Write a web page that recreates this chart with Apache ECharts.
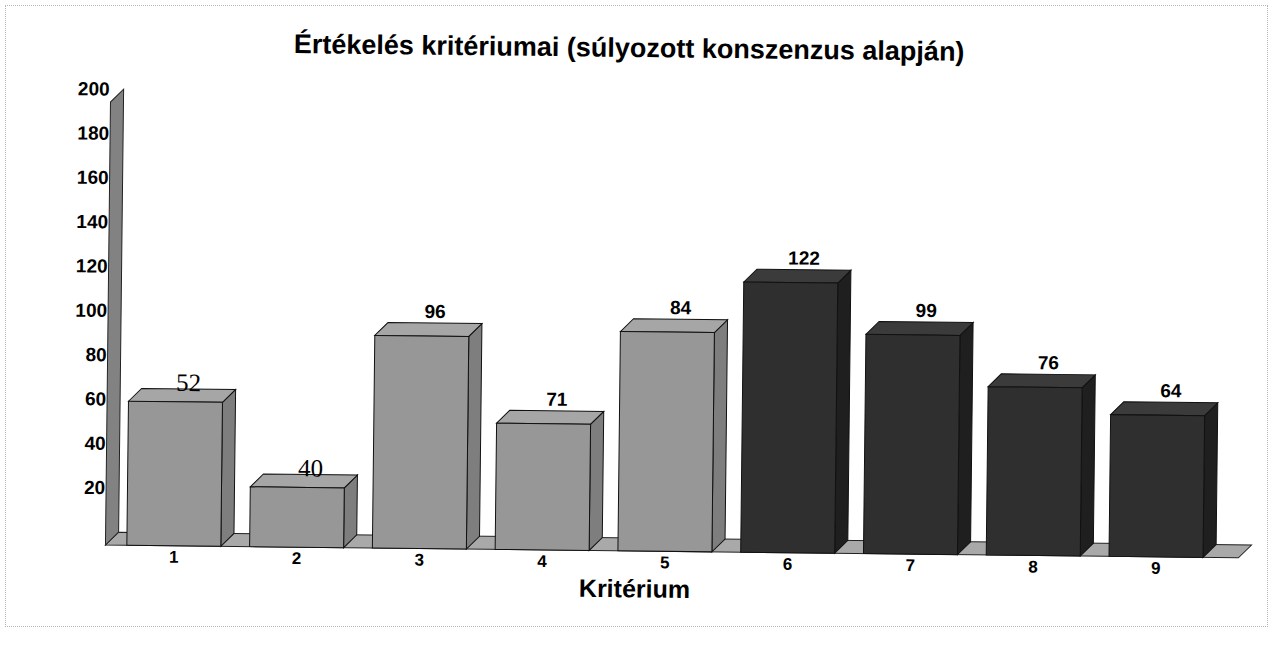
<!DOCTYPE html>
<html>
<head>
<meta charset="utf-8">
<script src="https://cdn.jsdelivr.net/npm/echarts@6/dist/echarts.min.js"></script>
<style>
  html, body { margin: 0; padding: 0; background: #ffffff; overflow: hidden; }
  #frame { position: absolute; left: 5px; top: 5px; width: 1261px; height: 620px; border: 1px dotted #b5b5b5; }
  #chart { position: absolute; left: 0; top: 0; width: 1273px; height: 647px; transform: rotate(0.65deg); transform-origin: 50% 50%; }
</style>
</head>
<body>
<div id="frame"></div>
<div id="chart"></div>
<script>
// ---- data ----
const titleText = 'Értékelés kritériumai (súlyozott konszenzus alapján)';
const axisName = 'Kritérium';
const categories = ['1', '2', '3', '4', '5', '6', '7', '8', '9'];
// bar heights as drawn against the value axis
const barHeights = [65, 27, 96, 57, 99, 122, 99, 76, 64];
// numbers printed above the bars
const printedLabels = ['52', '40', '96', '71', '84', '122', '99', '76', '64'];
// group of each criterion (light = 1-5, dark = 6-9)
const groups = ['A', 'A', 'A', 'A', 'A', 'B', 'B', 'B', 'B'];
const yMin = 0, yMax = 200, yStep = 20;

// ---- styles ----
const DEPTH = 13;
const BAR_W = 94;
const palette = {
  A: { front: '#979797', top: '#a6a6a6', side: '#7e7e7e' },
  B: { front: '#2f2f2f', top: '#3b3b3b', side: '#1f1f1f' }
};
const serifLabelIdx = [0, 1];
const FONT = '"Liberation Sans", Arial, sans-serif';
const sansFont = 'bold 19px ' + FONT;
const serifFont = '25px "Liberation Serif", "Times New Roman", serif';

const chart = echarts.init(document.getElementById('chart'), null, { renderer: 'svg' });

function renderFrame(params, api) {
  const cs = params.coordSys;
  const d = DEPTH;
  const y0 = api.coord([0, yMin])[1];
  const yTop = api.coord([0, yMax])[1];
  const bx = cs.x + 6;
  const rb = cs.x + cs.width + 34;
  return {
    type: 'group',
    children: [
      { type: 'polygon', shape: { points: [[bx, y0], [rb, y0], [rb - d, y0 + d], [bx - d, y0 + d]] },
        style: { fill: '#a9a9a9', stroke: '#222', lineWidth: 1 } },
      { type: 'polygon', shape: { points: [[bx, yTop], [bx, y0], [bx - d, y0 + d], [bx - d, yTop + d]] },
        style: { fill: '#828282', stroke: '#222', lineWidth: 1 } }
    ]
  };
}

function renderBar(params, api) {
  const i = api.value(0);
  const v = api.value(1);
  const top = api.coord([i, v]);
  const base = api.coord([i, 0]);
  const d = DEPTH, w = BAR_W;
  const xL = top[0] - w / 2, xR = top[0] + w / 2;
  const yT = top[1] + d, yB = base[1] + d;
  const c = palette[groups[i]];
  const serif = serifLabelIdx.indexOf(i) >= 0;
  return {
    type: 'group',
    children: [
      { type: 'polygon', shape: { points: [[xR, yT], [xR + d, yT - d], [xR + d, yB - d], [xR, yB]] },
        style: { fill: c.side, stroke: '#111', lineWidth: 1 } },
      { type: 'polygon', shape: { points: [[xL, yT], [xL + d, yT - d], [xR + d, yT - d], [xR, yT]] },
        style: { fill: c.top, stroke: '#111', lineWidth: 1 } },
      { type: 'rect', shape: { x: xL, y: yT, width: w, height: yB - yT },
        style: { fill: c.front, stroke: '#111', lineWidth: 1 } },
      { type: 'text', x: top[0] + d, y: top[1] + (serif ? 6 : -2),
        style: { text: printedLabels[i], textAlign: 'center', textVerticalAlign: 'bottom',
                 font: serif ? serifFont : sansFont, fill: '#000' } }
    ]
  };
}

const option = {
  backgroundColor: 'transparent',
  animation: false,
  graphic: [
    { type: 'text', x: 626, y: 48, silent: true,
      style: { text: titleText, textAlign: 'center', textVerticalAlign: 'middle',
               font: 'bold 27px ' + FONT, fill: '#000' } }
  ],
  grid: { left: 115, right: 53, top: 95, bottom: 109 },
  xAxis: {
    type: 'category',
    data: categories,
    axisLine: { show: false },
    axisTick: { show: false },
    axisLabel: { margin: 16, fontFamily: FONT, fontWeight: 'bold', fontSize: 17, color: '#000' },
    name: axisName,
    nameLocation: 'middle',
    nameGap: 36,
    nameTextStyle: { fontFamily: FONT, fontWeight: 'bold', fontSize: 25, color: '#000', padding: [0, 60, 0, 0] }
  },
  yAxis: {
    type: 'value',
    min: yMin,
    max: yMax,
    interval: yStep,
    axisLine: { show: false },
    axisTick: { show: false },
    splitLine: { show: false },
    axisLabel: {
      margin: 8,
      formatter: function (val) { return val === 0 ? '' : String(val); },
      fontFamily: FONT, fontWeight: 'bold', fontSize: 19, color: '#000'
    }
  },
  series: [
    { type: 'custom', renderItem: renderFrame, data: [[0, 0]], z: 1, silent: true, clip: false },
    { type: 'custom', renderItem: renderBar, z: 2, clip: false,
      data: barHeights.map(function (v, i) { return [i, v]; }) }
  ]
};
chart.setOption(option);
</script>
</body>
</html>
